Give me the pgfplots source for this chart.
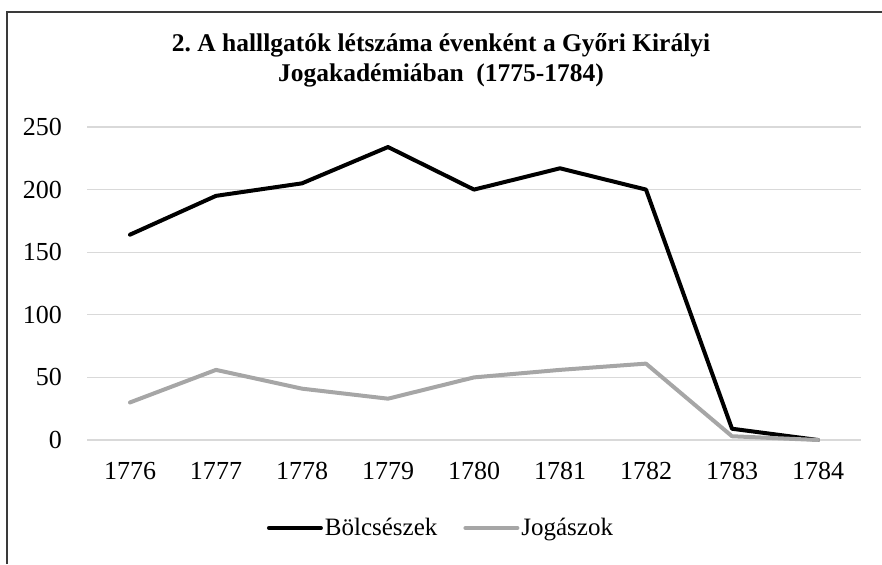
\documentclass[border=0pt]{standalone}
\usepackage{fontspec}
\setmainfont{Liberation Serif}
\usepackage{pgfplots}
\pgfplotsset{compat=1.18}
\definecolor{gridc}{HTML}{D9D9D9}
\definecolor{grayline}{HTML}{A6A6A6}
\definecolor{framec}{HTML}{3A3A3A}
\begin{document}
\begin{tikzpicture}[x=1pt,y=1pt]
\useasboundingbox (0,0) rectangle (882,564);
\draw[framec, line width=1.2pt] (7,0) -- (7,552) -- (882,552);
\begin{axis}[
  at={(87pt,124pt)}, anchor=south west,
  scale only axis, width=774pt, height=313pt,
  xmin=-0.5, xmax=8.5, ymin=0, ymax=250,
  xtick={0,...,8},
  xticklabels={1776,1777,1778,1779,1780,1781,1782,1783,1784},
  ytick={0,50,...,250},
  ymajorgrids, grid style={gridc, line width=1.2pt},
  axis line style={draw=none},
  major tick length=0pt,
  /pgf/number format/assume math mode=true,
  tick label style={font=\fontsize{26}{30}\selectfont, inner sep=0pt},
  yticklabel style={anchor=east, xshift=-25pt},
  xticklabel style={anchor=north, yshift=-22pt},
  legend columns=2,
  legend style={at={(441pt-87pt,36pt-124pt)}, anchor=center, draw=none, fill=none,
    font=\fontsize{25}{30}\selectfont, inner sep=0pt,
    nodes={inner sep=2pt},
    /tikz/every even column/.append style={column sep=24pt}},
  legend cell align=left,
  legend image code/.code={\draw[#1, line cap=round] (0pt,0pt) -- (52pt,0pt);},
  clip=false,
]
\addplot[black, line width=4pt, line join=round, line cap=round] coordinates {
(0,164) (1,195) (2,205) (3,234) (4,200) (5,217) (6,200) (7,9) (8,0)};
\addlegendentry{Bölcsészek}
\addplot[grayline, line width=4pt, line join=round, line cap=round] coordinates {
(0,30) (1,56) (2,41) (3,33) (4,50) (5,56) (6,61) (7,3) (8,0)};
\addlegendentry{Jogászok}
\end{axis}
\node[align=center, font=\fontsize{25.5}{30}\selectfont\bfseries] at (441,504)
  {2.\ A halllgatók létszáma évenként a Győri Királyi\\Jogakadémiában~~(1775-1784)};
\end{tikzpicture}
\end{document}
